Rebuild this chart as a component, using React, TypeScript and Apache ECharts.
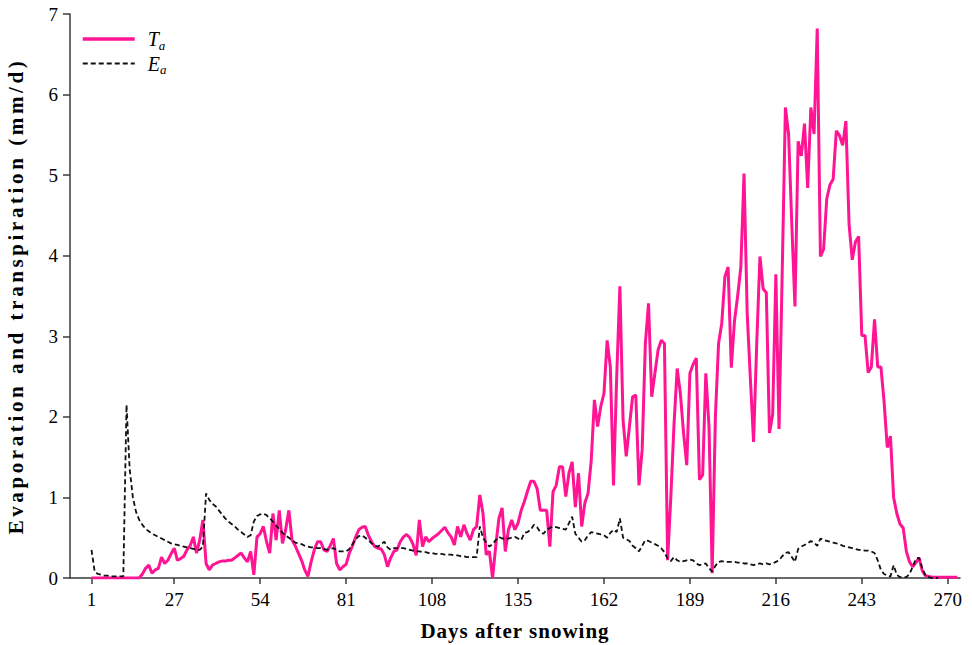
import React, { useEffect, useRef } from "react";
import * as echarts from "echarts";

const firstDay = 1;
const tickDays = [1, 27, 54, 81, 108, 135, 162, 189, 216, 243, 270];
const yTicks = [0, 1, 2, 3, 4, 5, 6, 7];
const xTitle = "Days after snowing";
const yTitle = "Evaporation and transpiration (mm/d)";

// Actual transpiration Ta (mm/d), day 1..273
const taValues = [
  0, 0, 0, 0, 0, 0, 0, 0, 0, 0,
  0, 0, 0, 0, 0, 0, 0.05, 0.12, 0.16, 0.06,
  0.1, 0.12, 0.26, 0.18, 0.22, 0.3, 0.37, 0.22, 0.24, 0.27,
  0.35, 0.4, 0.51, 0.31, 0.47, 0.72, 0.18, 0.1, 0.16, 0.18,
  0.2, 0.21, 0.21, 0.22, 0.22, 0.25, 0.28, 0.31, 0.25, 0.2,
  0.33, 0.04, 0.51, 0.55, 0.64, 0.45, 0.31, 0.8, 0.47, 0.84,
  0.43, 0.6, 0.84, 0.47, 0.4, 0.31, 0.22, 0.1, 0.02, 0.2,
  0.35, 0.45, 0.45, 0.35, 0.33, 0.4, 0.49, 0.18, 0.1, 0.14,
  0.17, 0.31, 0.4, 0.51, 0.6, 0.63, 0.64, 0.53, 0.45, 0.39,
  0.37, 0.36, 0.29, 0.14, 0.25, 0.33, 0.35, 0.45, 0.51, 0.54,
  0.5, 0.42, 0.28, 0.72, 0.39, 0.51, 0.45, 0.49, 0.52, 0.55,
  0.59, 0.63, 0.56, 0.51, 0.41, 0.64, 0.51, 0.66, 0.55, 0.47,
  0.6, 0.64, 1.03, 0.8, 0.29, 0.33, 0, 0.4, 0.74, 0.87,
  0.33, 0.6, 0.72, 0.6, 0.68, 0.84, 0.95, 1.08, 1.2, 1.2,
  1.11, 0.84, 0.84, 0.84, 0.39, 1.07, 1.15, 1.38, 1.38, 1.01,
  1.3, 1.44, 0.88, 1.3, 0.64, 0.93, 1.05, 1.46, 2.21, 1.88,
  2.13, 2.29, 2.95, 2.62, 1.15, 2.5, 3.62, 1.96, 1.51, 1.88,
  2.25, 2.27, 1.15, 1.59, 2.91, 3.41, 2.25, 2.54, 2.83, 2.95,
  2.91, 0.22, 1.0, 1.9, 2.6, 2.29, 1.8, 1.4, 2.54, 2.65,
  2.73, 1.22, 1.28, 2.54, 1.88, 0.06, 2.0, 2.91, 3.16, 3.74,
  3.86, 2.61, 3.19, 3.5, 3.86, 5.02, 3.28, 2.47, 1.69, 2.92,
  3.99, 3.59, 3.54, 1.8, 2.03, 3.77, 1.85, 3.8, 5.84, 5.51,
  4.4, 3.37, 5.42, 5.24, 5.64, 4.84, 5.84, 5.51, 6.82, 3.99,
  4.08, 4.71, 4.88, 4.95, 5.55, 5.49, 5.37, 5.67, 4.39, 3.95,
  4.17, 4.24, 3.01, 3.01, 2.55, 2.62, 3.21, 2.62, 2.62, 2.19,
  1.62, 1.76, 1.0, 0.8, 0.67, 0.62, 0.33, 0.2, 0.14, 0.19,
  0.25, 0.09, 0.03, 0.02, 0.01, 0.01, 0.01, 0.01, 0.01, 0.01,
  0.01, 0.01, 0.01,
];

// Actual evaporation Ea (mm/d), day 1..267
const eaValues = [
  0.35, 0.08, 0.05, 0.04, 0.03, 0.03, 0.02, 0.02, 0.02, 0.02,
  0.02, 2.15, 1.35, 1.0, 0.82, 0.72, 0.66, 0.61, 0.58, 0.55,
  0.53, 0.51, 0.49, 0.47, 0.45, 0.43, 0.42, 0.41, 0.4, 0.39,
  0.38, 0.37, 0.36, 0.35, 0.35, 0.39, 1.05, 0.97, 0.92, 0.89,
  0.84, 0.79, 0.74, 0.7, 0.67, 0.64, 0.6, 0.57, 0.54, 0.51,
  0.53, 0.7, 0.77, 0.79, 0.8, 0.78, 0.74, 0.7, 0.65, 0.61,
  0.56, 0.53, 0.5, 0.47, 0.44, 0.43, 0.42, 0.4, 0.39, 0.38,
  0.38, 0.37, 0.37, 0.36, 0.35, 0.36, 0.37, 0.35, 0.33, 0.33,
  0.33, 0.36, 0.42, 0.48, 0.52, 0.53, 0.5, 0.47, 0.43, 0.4,
  0.39, 0.42, 0.45, 0.38, 0.35, 0.37, 0.37, 0.37, 0.37, 0.36,
  0.35, 0.34, 0.33, 0.33, 0.32, 0.32, 0.31, 0.31, 0.3, 0.3,
  0.3, 0.29, 0.29, 0.29, 0.28, 0.28, 0.27, 0.27, 0.26, 0.26,
  0.26, 0.26, 0.64, 0.5, 0.44, 0.39, 0.42, 0.47, 0.51, 0.49,
  0.49, 0.49, 0.5, 0.51, 0.49, 0.47, 0.56, 0.57, 0.6, 0.66,
  0.63, 0.57, 0.55, 0.6, 0.62, 0.64, 0.63, 0.62, 0.61, 0.6,
  0.68, 0.76, 0.55, 0.5, 0.45, 0.47, 0.53, 0.57, 0.56, 0.55,
  0.54, 0.53, 0.5, 0.56, 0.6, 0.57, 0.74, 0.5, 0.48, 0.46,
  0.4, 0.37, 0.33, 0.4, 0.47, 0.46, 0.44, 0.42, 0.4, 0.37,
  0.32, 0.24, 0.21, 0.26, 0.22, 0.2, 0.21, 0.22, 0.23, 0.22,
  0.18, 0.16, 0.17, 0.18, 0.12, 0.08, 0.15, 0.2, 0.21, 0.2,
  0.2, 0.2, 0.2, 0.19, 0.19, 0.18, 0.18, 0.17, 0.16, 0.17,
  0.18, 0.17, 0.18, 0.17, 0.18, 0.2, 0.22, 0.27, 0.31, 0.32,
  0.26, 0.2, 0.36, 0.39, 0.41, 0.43, 0.46, 0.44, 0.4, 0.49,
  0.47, 0.46, 0.45, 0.44, 0.43, 0.42, 0.4, 0.39, 0.38, 0.37,
  0.36, 0.35, 0.35, 0.34, 0.34, 0.33, 0.31, 0.22, 0.1, 0.05,
  0.03, 0.02, 0.16, 0.04, 0.01, 0.01, 0.01, 0.05, 0.14, 0.24,
  0.25, 0.12, 0.03, 0.01, 0, 0, 0,
];

const serif = "'Liberation Serif', 'Times New Roman', serif";
const axisColor = "#3a3a3a";

export default function App() {
  const ref = useRef<HTMLDivElement>(null);

  useEffect(() => {
    if (!ref.current) return;
    const chart = echarts.init(ref.current, undefined, { renderer: "svg" });
    const toPairs = (vals: number[]) => vals.map((v, i) => [firstDay + i, v]);

    chart.setOption({
      animation: false,
      backgroundColor: "#ffffff",
      grid: {
        left: 70,
        right: 12,
        top: 14,
        bottom: 67,
        containLabel: false,
        outerBoundsMode: "none",
      },
      legend: {
        orient: "vertical",
        left: 81,
        top: 29,
        padding: 0,
        itemWidth: 52,
        itemHeight: 14,
        itemGap: 2,
        data: [
          { name: "Ta", lineStyle: { width: 3.5 } },
          { name: "Ea", lineStyle: { width: 2 } },
        ],
        itemStyle: { opacity: 0 },
        formatter: (name: string) =>
          name === "Ta" ? "{i|T}{s|a}" : "{i|E}{s|a}",
        textStyle: {
          fontFamily: serif,
          color: "#000",
          padding: [0, 0, 0, 8],
          rich: {
            i: { fontFamily: serif, fontStyle: "italic", fontSize: 20, color: "#000" },
            s: {
              fontFamily: serif,
              fontStyle: "italic",
              fontSize: 13,
              color: "#000",
              padding: [12, 0, 0, 0],
            },
          },
        },
      },
      xAxis: {
        type: "value",
        min: -5.75,
        max: 273.85,
        name: xTitle,
        nameLocation: "middle",
        nameGap: 42,
        nameTextStyle: { fontFamily: serif, fontWeight: "bold", fontSize: 21, color: "#000" },
        axisLine: { show: true, onZero: false, lineStyle: { color: axisColor, width: 1.5 } },
        axisTick: {
          show: true,
          customValues: tickDays,
          length: 6,
          lineStyle: { color: axisColor, width: 1.5 },
        },
        axisLabel: {
          customValues: tickDays,
          fontFamily: serif,
          fontSize: 19,
          color: "#000",
          margin: 12,
        },
        splitLine: { show: false },
      },
      yAxis: {
        type: "value",
        min: 0,
        max: 7,
        interval: 1,
        name: yTitle,
        nameLocation: "middle",
        nameGap: 44,
        nameTextStyle: { fontFamily: serif, fontWeight: "bold", fontSize: 21, color: "#000" },
        axisLine: { show: true, onZero: false, lineStyle: { color: axisColor, width: 1.5 } },
        axisTick: { show: true, length: 7, lineStyle: { color: axisColor, width: 1.5 } },
        axisLabel: {
          fontFamily: serif,
          fontSize: 19,
          color: "#000",
          margin: 12,
          formatter: (v: number) => (yTicks.includes(v) ? String(v) : ""),
        },
        splitLine: { show: false },
      },
      series: [
        {
          name: "Ta",
          type: "line",
          data: toPairs(taValues),
          symbol: "none",
          lineStyle: { color: "#ff1493", width: 3 },
          itemStyle: { color: "#ff1493" },
          z: 3,
        },
        {
          name: "Ea",
          type: "line",
          data: toPairs(eaValues),
          symbol: "none",
          lineStyle: { color: "#111", width: 1.8, type: [5, 3] },
          itemStyle: { color: "#111" },
          z: 4,
        },
      ],
    });

    // widen the axis titles' letter spacing as in the reference
    const texts = chart.getDom().querySelectorAll("text");
    texts.forEach((t) => {
      const s = (t.textContent || "").trim();
      if (s === yTitle) (t as SVGTextElement).style.letterSpacing = "3.6px";
      if (s === xTitle) (t as SVGTextElement).style.letterSpacing = "1px";
    });

    return () => chart.dispose();
  }, []);

  return (
    <div
      ref={ref}
      style={{ position: "fixed", left: 0, top: 0, width: 972, height: 645, background: "#fff" }}
    />
  );
}
